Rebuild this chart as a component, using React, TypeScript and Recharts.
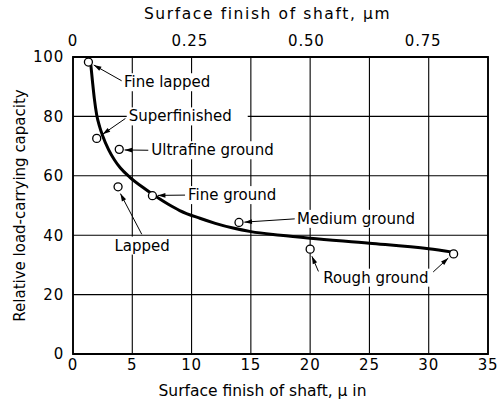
import { ComposedChart, Line, Scatter, XAxis, YAxis, CartesianGrid, ReferenceArea, ReferenceLine } from 'recharts';

// measured points: surface finish (µin) vs relative load capacity
const finishMicroIn = [1.3, 2.0, 3.9, 3.8, 6.7, 14.0, 20.0, 32.1];
const loadCapacity = [98.3, 72.6, 68.9, 56.3, 53.3, 44.3, 35.3, 33.7];

// faired curve through the data
const curveX = [1.5, 1.65, 1.8, 2.0, 2.25, 2.5, 3.0, 3.5, 4.0, 4.8, 6, 7, 8, 9, 10.7, 12, 13.5, 15, 17.5, 20, 25, 30, 32];
const curveY = [97.5, 91.5, 86, 80.5, 76.5, 73.5, 68.8, 65.3, 62.6, 59.5, 55.8, 53, 50.5, 48.3, 45.7, 44, 42.4, 41.2, 40, 39, 37.3, 35.4, 34.3];

// finish process labels and their anchor positions
const labelNames = ['Fine lapped', 'Superfinished', 'Ultrafine ground', 'Lapped', 'Fine ground', 'Medium ground', 'Rough ground'];
const labelX = [4.3, 4.7, 6.6, 3.5, 9.7, 18.9, 21.1];
const labelY = [91.5, 80, 68.6, 36.5, 53.5, 45.5, 25.7];

// leader arrows from labels to points
const arrowFromX = [4.1, 4.42, 6.35, 5.8, 9.45, 18.7, 20.7, 30.1];
const arrowFromY = [92, 79.3, 68.6, 40.3, 53.5, 45.5, 27.8, 26.6];
const arrowToX = [1.75, 2.5, 4.35, 4.0, 7.15, 14.45, 20.15, 31.65];
const arrowToY = [97.3, 74.0, 68.7, 54.0, 53.4, 44.4, 32.9, 32.3];

const xTicks = [0, 5, 10, 15, 20, 25, 30, 35];
const yTicks = [0, 20, 40, 60, 80, 100];
const topTicks = [0, 0.25, 0.5, 0.75];
const MICRON_PER_MICROINCH = 0.0254;

const points = finishMicroIn.map((x, i) => ({ x, y: loadCapacity[i] }));
const pointsMicron = finishMicroIn.map((x, i) => ({ x: x * MICRON_PER_MICROINCH, y: loadCapacity[i] }));
const curve = curveX.map((x, i) => ({ x, y: curveY[i] }));
const labels = labelNames.map((name, i) => ({ x: labelX[i], y: labelY[i], name }));

const FONT = 'DejaVu Sans';
const tickStyle = { fill: '#000', fontSize: 15, fontFamily: FONT, letterSpacing: 0.8 };
const titleStyle = { fill: '#000', fontSize: 15.5, fontFamily: FONT };

const Arrow = (props: any) => {
  const { x1, y1, x2, y2 } = props;
  const a = Math.atan2(y2 - y1, x2 - x1);
  const len = 8;
  const w = 0.3;
  const p1 = [x2 - len * Math.cos(a - w), y2 - len * Math.sin(a - w)];
  const p2 = [x2 - len * Math.cos(a + w), y2 - len * Math.sin(a + w)];
  return (
    <g>
      <line x1={x1} y1={y1} x2={x2} y2={y2} stroke="#000" strokeWidth={1} />
      <polygon points={`${x2},${y2} ${p1[0]},${p1[1]} ${p2[0]},${p2[1]}`} fill="#000" />
    </g>
  );
};

const LabelShape = (props: any) => {
  const { cx, cy, payload } = props;
  const w = payload.name.length * 9;
  return (
    <g>
      <rect x={cx - 2} y={cy - 9} width={w + 4} height={18} fill="#fff" />
      <text x={cx} y={cy} dominantBaseline="central" fontSize={15} fontFamily={FONT} fill="#000">
        {payload.name}
      </text>
    </g>
  );
};

export default function App() {
  return (
    <div style={{ position: 'absolute', left: 0, top: 0, background: '#fff' }}>
      <ComposedChart width={504} height={405} margin={{ top: 0, right: 16, bottom: 0, left: 0 }}>
        <CartesianGrid stroke="#000" strokeWidth={1.1} />
        <XAxis
          type="number"
          dataKey="x"
          domain={[0, 35]}
          ticks={xTicks}
          height={51}
          axisLine={false}
          tickLine={false}
          tickSize={0}
          tickMargin={5}
          tick={tickStyle}
          label={{ value: 'Surface finish of shaft, µ in', position: 'insideBottom', offset: 9, dx: -18, ...titleStyle }}
        />
        <XAxis
          xAxisId="top"
          orientation="top"
          type="number"
          dataKey="x"
          domain={[0, 35 * MICRON_PER_MICROINCH]}
          allowDataOverflow
          ticks={topTicks}
          tickFormatter={(v: number) => (v === 0 ? '0' : v.toFixed(2))}
          height={57}
          axisLine={false}
          tickLine={false}
          tickSize={0}
          tickMargin={11}
          tick={tickStyle}
          label={{ value: 'Surface finish of shaft, µm', position: 'insideTop', offset: 8, dx: -13, ...titleStyle, letterSpacing: 1.6 }}
        />
        <YAxis
          type="number"
          domain={[0, 100]}
          ticks={yTicks}
          width={73}
          axisLine={false}
          tickLine={false}
          tickSize={0}
          tickMargin={9}
          tick={tickStyle}
          label={{ value: 'Relative load-carrying capacity', angle: -90, position: 'insideLeft', offset: 20, ...titleStyle, fontSize: 15, style: { textAnchor: 'middle' } }}
        />
        <ReferenceArea x1={0} x2={35} y1={0} y2={100} fill="none" stroke="#000" strokeWidth={1.8} ifOverflow="visible" />
        {/* same points in µm, bound to the top axis (not drawn) */}
        <Scatter xAxisId="top" data={pointsMicron} dataKey="y" shape={() => <g />} isAnimationActive={false} />
        <Scatter data={labels} dataKey="y" shape={LabelShape} isAnimationActive={false} />
        {arrowFromX.map((fx, i) => (
          <ReferenceLine
            key={i}
            segment={[{ x: fx, y: arrowFromY[i] }, { x: arrowToX[i], y: arrowToY[i] }]}
            shape={Arrow}
            ifOverflow="visible"
          />
        ))}
        <Line data={curve} dataKey="y" type="monotone" stroke="#000" strokeWidth={3} dot={false} isAnimationActive={false} />
        <Scatter
          data={points}
          dataKey="y"
          isAnimationActive={false}
          shape={(p: any) => <circle cx={p.cx} cy={p.cy} r={4} fill="#fff" stroke="#000" strokeWidth={1.3} />}
        />
      </ComposedChart>
    </div>
  );
}
